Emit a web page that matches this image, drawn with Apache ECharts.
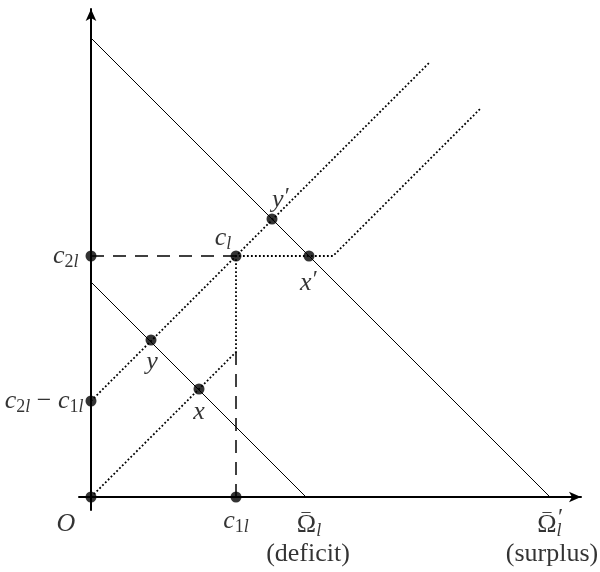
<!DOCTYPE html>
<html>
<head>
<meta charset="utf-8">
<script src="https://cdn.jsdelivr.net/npm/echarts@6/dist/echarts.min.js"></script>
<style>
html,body{margin:0;padding:0;background:#fff;}
#chart{width:600px;height:572px;}
</style>
</head>
<body>
<div id="chart"></div>
<script>
// Values (in diagram units)
const budgetLow = [[0, 215], [215, 0]];          // deficit budget line
const budgetHigh = [[0, 459], [459, 0]];         // surplus budget line
const upperDotted = [[0, 96], [339, 435]];       // 45° line through c_l
const kinkedDotted = [[0, 0], [145, 145], [145, 241], [242, 241], [389, 388]];
const dashH = [[0, 241], [145, 241]];
const dashV = [[145, 0], [145, 145]];
const dotNames = ['O', 'c2l', 'c2l-c1l', 'cl', 'c1l', "y'", "x'", 'y', 'x'];
const dotValues = [[0, 0], [0, 241], [0, 96], [145, 241], [145, 0], [181, 278], [218, 241], [60, 157], [108, 108]];
const axisMarkNames = ['Omega', "Omega'"];
const axisMarkValues = [[215, 0], [459, 0]];

const F = '"Liberation Serif"';
const rich = {
  m: {fontFamily: F, fontStyle: 'italic', fontSize: 26, color: '#000'},
  r: {fontFamily: F, fontSize: 26, color: '#000'},
  sr: {fontFamily: F, fontSize: 18, color: '#000', padding: [12, 0, 0, 0]},
  si: {fontFamily: F, fontStyle: 'italic', fontSize: 18, color: '#000', padding: [12, 0, 0, 0]},
  sup: {fontFamily: F, fontSize: 24, color: '#000', padding: [0, 0, 6, 1]},
  bar: {fontFamily: F, fontSize: 18, color: '#000'}
};

const labelCfg = {
  'O': {text: '{m|O}', offset: [-25, 27]},
  'c2l': {text: '{m|c}{sr|2}{si|l}', position: 'left', distance: 7},
  'c2l-c1l': {text: '{m|c}{sr|2}{si|l}{r| − }{m|c}{sr|1}{si|l}', position: 'left', distance: 2},
  'cl': {text: '{m|c}{si|l}', offset: [-13, -18]},
  'c1l': {text: '{m|c}{sr|1}{si|l}', offset: [0, 24]},
  "y'": {text: '{m|y}{sup|′}', offset: [9, -19]},
  "x'": {text: '{m|x}{sup|′}', offset: [0, 27]},
  'y': {text: '{m|y}', offset: [1, 22]},
  'x': {text: '{m|x}', offset: [0, 23]}
};

function dotItem(name, i) {
  const c = labelCfg[name];
  const lab = {show: true, formatter: c.text, rich: rich, position: c.position || 'inside'};
  if (c.offset) lab.offset = c.offset;
  if (c.distance != null) lab.distance = c.distance;
  return {name: name, value: dotValues[i], label: lab};
}

function textAt(value, formatter, offset) {
  return {value: value, label: {show: true, position: 'inside', rich: rich, offset: offset, formatter: formatter}};
}

const markItems = [
  textAt(axisMarkValues[0], '{r|Ω}{si|l}', [3, 28]),
  textAt(axisMarkValues[0], '{bar|–}', [0, 15]),
  textAt(axisMarkValues[0], '{r|(deficit)}', [2, 57]),
  textAt(axisMarkValues[1], '{r|Ω}', [-3, 28]),
  textAt(axisMarkValues[1], '{bar|–}', [-3, 15]),
  textAt(axisMarkValues[1], '{sup|′}', [10, 24]),
  textAt(axisMarkValues[1], '{si|l}', [9, 28]),
  textAt(axisMarkValues[1], '{r|(surplus)}', [2, 57])
];

function lineSeries(data, style) {
  return {type: 'line', data: data, showSymbol: false, symbol: 'none', silent: true,
    lineStyle: Object.assign({color: '#000', width: 1}, style), z: 2};
}

const chart = echarts.init(document.getElementById('chart'), null, {renderer: 'canvas'});
chart.setOption({
  animation: false,
  backgroundColor: '#fff',
  grid: {left: 79, right: 19, top: 9, bottom: 62, containLabel: false},
  xAxis: {
    type: 'value', min: -12, max: 490,
    axisLine: {show: true, onZero: true, symbol: ['none', 'arrow'], symbolSize: [8, 12], lineStyle: {color: '#000', width: 2}},
    axisTick: {show: false}, axisLabel: {show: false}, splitLine: {show: false}
  },
  yAxis: {
    type: 'value', min: -13, max: 488,
    axisLine: {show: true, onZero: true, symbol: ['none', 'arrow'], symbolSize: [8, 12], lineStyle: {color: '#000', width: 2}},
    axisTick: {show: false}, axisLabel: {show: false}, splitLine: {show: false}
  },
  series: [
    lineSeries(budgetHigh, {}),
    lineSeries(budgetLow, {}),
    lineSeries(upperDotted, {width: 1.8, type: [1.8, 2.2]}),
    lineSeries(kinkedDotted, {width: 1.8, type: [1.8, 2.2]}),
    lineSeries(dashH, {width: 1.5, type: [13, 9]}),
    lineSeries(dashV, {width: 1.5, type: [13, 9]}),
    {type: 'scatter', symbolSize: 11, itemStyle: {color: '#000'}, z: 5, silent: true,
      data: dotNames.map(dotItem)},
    {type: 'scatter', symbolSize: 0, z: 5, silent: true, data: markItems}
  ]
});
</script>
</body>
</html>
